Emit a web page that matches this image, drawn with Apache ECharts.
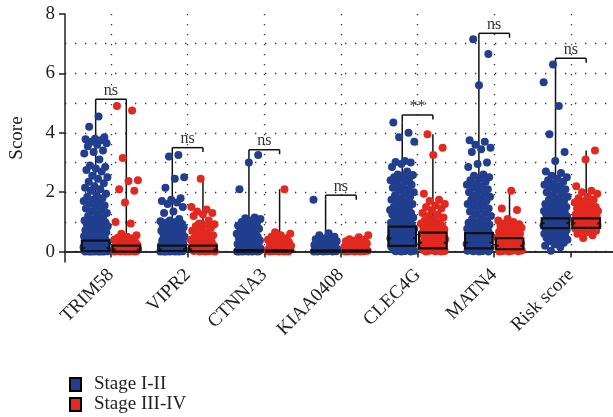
<!DOCTYPE html>
<html><head><meta charset="utf-8">
<script src="https://cdn.jsdelivr.net/npm/echarts@6/dist/echarts.min.js"></script>
<style>html,body{margin:0;padding:0;background:#fff}#c{width:613px;height:417px}</style>
</head><body><div id="c"></div>
<script>
const categories = ['TRIM58','VIPR2','CTNNA3','KIAA0408','CLEC4G','MATN4','Risk score'];
const groupNames = ['Stage I-II','Stage III-IV'];
const yLabelTicks = [0,2,4,6,8];
const yGridLines = [0,1,2,3,4,5,6,7];

const blueValues = [
 [4.55,4.2,3.85,3.8,3.78,3.75,3.7,3.65,3.6,3.55,3.4,3.35,3.3,3.1,2.9,2.85,2.8,2.75,2.7,2.55,2.5,2.45,2.35,2.3,2.2,2.15,2.1,2.05,1.95,1.9,1.85,1.8,1.75,1.7,1.65,1.6,1.55,1.5,1.45,1.4,1.35,1.3,1.25,1.2,1.15,1.1,1.05,1.02,1.0,0.98,0.95,0.92,0.9,0.87,0.85,0.82,0.8,0.77,0.75,0.72,0.7,0.67,0.65,0.62,0.6,0.57,0.55,0.52,0.5,0.47,0.45,0.42,0.4,0.37,0.35,0.32,0.3,0.28,0.27,0.25,0.24,0.22,0.21,0.2,0.19,0.18,0.17,0.16,0.15,0.14,0.13,0.12,0.11,0.1,0.09,0.08,0.07,0.06,0.05,0.05,0.04,0.04,0.03,0.03,0.02,0.02,0.02,0.01,0.01,0.01,0,0,0,0,0,0,0],
 [3.25,3.2,2.5,2.45,2.15,1.8,1.75,1.7,1.65,1.6,1.5,1.35,1.3,1.1,1.05,1.02,1.0,0.97,0.95,0.92,0.9,0.87,0.85,0.82,0.8,0.77,0.75,0.72,0.7,0.67,0.65,0.62,0.6,0.57,0.55,0.52,0.5,0.47,0.45,0.42,0.4,0.37,0.35,0.32,0.3,0.28,0.26,0.24,0.22,0.2,0.18,0.16,0.14,0.12,0.1,0.09,0.08,0.07,0.06,0.05,0.04,0.03,0.03,0.02,0.02,0.01,0.01,0,0,0,0,0,0],
 [3.25,3.0,2.1,1.15,1.12,1.1,1.05,1.0,0.95,0.9,0.87,0.85,0.8,0.77,0.75,0.7,0.67,0.65,0.6,0.57,0.55,0.5,0.47,0.45,0.42,0.4,0.37,0.35,0.32,0.3,0.28,0.26,0.24,0.22,0.2,0.18,0.16,0.14,0.12,0.1,0.09,0.08,0.07,0.06,0.05,0.04,0.03,0.03,0.02,0.02,0.01,0.01,0,0,0,0,0,0],
 [1.75,0.62,0.55,0.5,0.45,0.42,0.4,0.37,0.35,0.32,0.3,0.27,0.25,0.22,0.2,0.18,0.16,0.14,0.12,0.1,0.09,0.08,0.07,0.06,0.05,0.04,0.03,0.02,0.02,0.01,0.01,0,0,0,0],
 [4.35,4.0,3.85,3.7,3.05,3.02,3.0,2.95,2.85,2.7,2.6,2.58,2.55,2.5,2.47,2.45,2.4,2.35,2.3,2.25,2.2,2.15,2.1,2.05,2.0,1.95,1.9,1.85,1.8,1.75,1.7,1.65,1.6,1.55,1.5,1.47,1.45,1.4,1.37,1.35,1.3,1.27,1.25,1.2,1.17,1.15,1.1,1.07,1.05,1.0,0.97,0.95,0.92,0.9,0.87,0.85,0.82,0.8,0.77,0.75,0.72,0.7,0.67,0.65,0.62,0.6,0.57,0.55,0.52,0.5,0.47,0.45,0.42,0.4,0.37,0.35,0.32,0.3,0.28,0.26,0.24,0.22,0.2,0.18,0.16,0.14,0.12,0.1,0.08,0.06,0.05,0.04,0.03,0.02,0.01,0,0],
 [7.15,6.65,5.6,3.75,3.7,3.6,3.5,3.45,3.35,3.0,2.95,2.85,2.6,2.55,2.5,2.45,2.4,2.35,2.3,2.25,2.2,2.15,2.1,2.05,2.0,1.95,1.9,1.85,1.8,1.75,1.7,1.65,1.6,1.55,1.5,1.45,1.4,1.35,1.3,1.25,1.2,1.15,1.1,1.05,1.0,0.97,0.95,0.92,0.9,0.87,0.85,0.82,0.8,0.77,0.75,0.72,0.7,0.67,0.65,0.62,0.6,0.57,0.55,0.52,0.5,0.47,0.45,0.42,0.4,0.37,0.35,0.32,0.3,0.28,0.26,0.24,0.22,0.2,0.18,0.16,0.14,0.12,0.1,0.08,0.06,0.05,0.04,0.03,0.02,0.01,0,0],
 [6.3,5.7,4.9,3.95,3.35,3.05,2.7,2.65,2.55,2.5,2.45,2.4,2.35,2.3,2.25,2.2,2.15,2.1,2.05,2.0,1.95,1.9,1.85,1.8,1.75,1.7,1.65,1.6,1.57,1.55,1.5,1.47,1.45,1.42,1.4,1.37,1.35,1.32,1.3,1.28,1.25,1.22,1.2,1.18,1.15,1.12,1.1,1.08,1.05,1.02,1.0,0.98,0.96,0.94,0.92,0.9,0.88,0.86,0.84,0.82,0.8,0.78,0.76,0.74,0.72,0.7,0.67,0.65,0.62,0.6,0.57,0.55,0.52,0.5,0.47,0.45,0.42,0.4,0.37,0.35,0.3,0.25,0.2,0.15,0.03]
];
const redValues = [
 [4.9,4.75,3.15,2.4,2.38,2.1,2.05,1.65,1.0,0.95,0.6,0.55,0.5,0.47,0.45,0.42,0.4,0.37,0.35,0.32,0.3,0.28,0.26,0.25,0.23,0.22,0.2,0.19,0.18,0.16,0.15,0.14,0.13,0.12,0.11,0.1,0.09,0.08,0.07,0.06,0.05,0.05,0.04,0.04,0.03,0.03,0.02,0.02,0.01,0.01,0,0,0,0,0],
 [2.45,1.5,1.42,1.35,1.3,1.25,1.2,1.05,0.95,0.92,0.9,0.85,0.8,0.75,0.7,0.65,0.6,0.55,0.5,0.47,0.45,0.42,0.4,0.37,0.35,0.32,0.3,0.27,0.25,0.22,0.2,0.18,0.15,0.12,0.1,0.08,0.06,0.05,0.04,0.03,0.02,0.01,0,0,0],
 [2.1,0.65,0.6,0.55,0.5,0.45,0.42,0.4,0.37,0.35,0.32,0.3,0.27,0.25,0.22,0.2,0.18,0.16,0.14,0.12,0.1,0.08,0.07,0.06,0.05,0.04,0.03,0.02,0.02,0.01,0.01,0,0,0,0],
 [0.55,0.48,0.42,0.4,0.37,0.35,0.32,0.3,0.27,0.25,0.22,0.2,0.18,0.16,0.14,0.12,0.1,0.08,0.06,0.05,0.04,0.03,0.02,0.01,0.01,0,0,0],
 [3.95,3.5,3.25,1.95,1.75,1.7,1.6,1.55,1.5,1.45,1.4,1.3,1.25,1.2,1.15,1.1,1.05,1.0,0.97,0.95,0.92,0.9,0.87,0.85,0.82,0.8,0.77,0.75,0.72,0.7,0.67,0.65,0.62,0.6,0.57,0.55,0.52,0.5,0.47,0.45,0.42,0.4,0.37,0.35,0.32,0.3,0.28,0.26,0.24,0.22,0.2,0.18,0.16,0.14,0.12,0.1,0.08,0.06,0.05,0.04,0.03,0.02,0.01,0,0],
 [2.05,1.45,1.4,1.1,1.05,1.0,0.95,0.92,0.9,0.87,0.85,0.82,0.8,0.77,0.75,0.72,0.7,0.67,0.65,0.62,0.6,0.57,0.55,0.52,0.5,0.47,0.45,0.42,0.4,0.37,0.35,0.32,0.3,0.28,0.26,0.24,0.22,0.2,0.18,0.16,0.14,0.12,0.1,0.08,0.06,0.05,0.04,0.03,0.02,0.01,0,0],
 [3.4,3.1,2.2,2.05,2.0,1.95,1.85,1.8,1.75,1.7,1.65,1.6,1.55,1.5,1.47,1.45,1.42,1.4,1.37,1.35,1.32,1.3,1.28,1.25,1.22,1.2,1.18,1.15,1.12,1.1,1.08,1.05,1.02,1.0,0.98,0.96,0.94,0.92,0.9,0.88,0.86,0.84,0.82,0.8,0.78,0.75,0.72,0.7,0.65,0.6,0.55,0.46]
];

// box statistics
const blueQ1  = [0.02,0.02,0,0,0.19,0.11,0.79];
const blueMed = [0.12,0.08,0.01,0.01,0.45,0.30,0.96];
const blueQ3  = [0.37,0.20,0.05,0.04,0.84,0.62,1.12];
const redQ1   = [0,0.01,0,0,0.11,0.08,0.80];
const redMed  = [0.07,0.07,0.01,0.01,0.30,0.20,0.95];
const redQ3   = [0.20,0.20,0.04,0.04,0.64,0.45,1.12];
const blueMax = [4.55,3.25,3.25,1.75,4.35,7.15,6.30];
const redMax  = [4.90,2.45,2.10,0.55,3.95,2.05,3.40];
const bracketY = [5.13,3.50,3.43,1.90,4.60,7.35,6.51];
const sigLabels = ['ns','ns','ns','ns','**','ns','ns'];

const BLUE = '#213f8e', RED = '#e1291f';
const FONT = '"Liberation Serif","Times New Roman",serif';
const OFF = 0.2, HW = 0.18, JW = 0.32;

function jitterData(vals, i, sign, seed) {
  return vals.map((v, j) => {
    const f = ((j + 1) * 0.6180339887 + seed) % 1;
    return [i + 1 + sign * OFF + (f - 0.5) * JW, v];
  });
}
const blueData = [], redData = [];
categories.forEach((c, i) => {
  blueData.push(...jitterData(blueValues[i], i, -1, i * 0.13));
  redData.push(...jitterData(redValues[i], i, 1, i * 0.29 + 0.5));
});

const catData = categories.map((c, i) => [i + 1, bracketY[i]]);
const ln = (a, b, w) => ({type: 'line', shape: {x1: a[0], y1: a[1], x2: b[0], y2: b[1]}, style: {stroke: '#111', lineWidth: w}});

function renderWhiskers(params, api) {
  const i = params.dataIndex, x = i + 1;
  const ch = [];
  ch.push(ln(api.coord([x - OFF, blueQ3[i]]), api.coord([x - OFF, blueMax[i]]), 1.5));
  ch.push(ln(api.coord([x + OFF, redQ3[i]]), api.coord([x + OFF, redMax[i]]), 1.5));
  const yb = bracketY[i];
  const L = api.coord([x - OFF, yb]), R = api.coord([x + OFF, yb]);
  ch.push(ln(L, R, 1.5));
  ch.push(ln(L, api.coord([x - OFF, blueMax[i] > yb - 0.6 ? blueMax[i] : yb - 0.15]), 1.5));
  ch.push(ln(R, api.coord([x + OFF, redMax[i] > yb - 0.6 ? redMax[i] : yb - 0.15]), 1.5));
  ch.push({type: 'text', x: (L[0] + R[0]) / 2, y: L[1] - 0.5,
    style: {text: sigLabels[i], textAlign: 'center', textVerticalAlign: 'bottom', font: '16px ' + FONT, fill: '#333'}});
  return {type: 'group', children: ch};
}
function renderBoxes(params, api) {
  const i = params.dataIndex, x = i + 1;
  const ch = [];
  const hw = api.size([HW, 0])[0];
  [[x - OFF, blueQ1, blueMed, blueQ3], [x + OFF, redQ1, redMed, redQ3]].forEach(([cx, q1, md, q3]) => {
    const t = api.coord([cx, q3[i]]), b = api.coord([cx, q1[i]]), m = api.coord([cx, md[i]]);
    ch.push({type: 'rect', shape: {x: t[0] - hw, y: t[1], width: 2 * hw, height: Math.max(b[1] - t[1], 1)},
      style: {fill: 'rgba(0,0,0,0)', stroke: '#111', lineWidth: 2.2}});
    ch.push(ln([m[0] - hw, m[1]], [m[0] - hw + 3, m[1]], 2));
    ch.push(ln([m[0] + hw - 3, m[1]], [m[0] + hw, m[1]], 2));
  });
  return {type: 'group', children: ch};
}

const chart = echarts.init(document.getElementById('c'), null, {renderer: 'canvas'});
const dotted = {color: '#333', width: 1.3, type: [1.3, 8.7]};
chart.setOption({
  animation: false,
  backgroundColor: '#fff',
  grid: {left: 64, top: 14, width: 549, height: 248},
  legend: {
    orient: 'vertical', left: 64, top: 370, height: 80, itemWidth: 11, itemHeight: 13, itemGap: 1,
    icon: 'rect', itemStyle: {borderColor: '#000', borderWidth: 2},
    textStyle: {fontFamily: FONT, fontSize: 19, color: '#222', padding: [0, 0, 0, 8]},
    data: groupNames
  },
  xAxis: [{
    type: 'value', min: 0.4, max: 7.55,
    axisLine: {show: true, lineStyle: {color: '#222', width: 1.5}},
    axisTick: {show: true, length: 6, customValues: [1,2,3,4,5,6,7], lineStyle: {color: '#222', width: 1.5}},
    axisLabel: {customValues: [1,2,3,4,5,6,7], rotate: 45, margin: 10,
      formatter: v => categories[Math.round(v) - 1] || '',
      fontFamily: FONT, fontSize: 19, color: '#222'},
    splitLine: {show: true, lineStyle: dotted}
  }, {
    type: 'value', position: 'top', min: 0.4, max: 7.55,
    axisLine: {show: true, lineStyle: {color: '#222', width: 1.5}},
    axisTick: {show: false}, axisLabel: {show: false}, splitLine: {show: false}
  }],
  yAxis: [{
    type: 'value', min: -0.35, max: 8,
    name: 'Score', nameLocation: 'middle', nameGap: 38,
    nameTextStyle: {fontFamily: FONT, fontSize: 19, color: '#222'},
    axisLine: {show: true, lineStyle: {color: '#222', width: 1.5}},
    axisTick: {show: true, length: 6, customValues: yLabelTicks, lineStyle: {color: '#222', width: 1.5}},
    axisLabel: {customValues: yLabelTicks, margin: 10, fontFamily: FONT, fontSize: 19, color: '#222'},
    splitLine: {show: false}
  }, {
    type: 'value', min: -0.35, max: 8, position: 'left',
    axisLine: {show: false}, axisLabel: {show: false},
    axisTick: {show: false, customValues: yGridLines},
    splitLine: {show: true, lineStyle: dotted}
  }],
  series: [
    {type: 'custom', name: 'whiskers', renderItem: renderWhiskers, data: catData, encode: {x: 0, y: 1}, z: 1, silent: true},
    {type: 'scatter', name: groupNames[0], data: blueData, symbolSize: 8, itemStyle: {color: BLUE, opacity: 1}, z: 2},
    {type: 'scatter', name: groupNames[1], data: redData, symbolSize: 8, itemStyle: {color: RED, opacity: 1}, z: 2},
    {type: 'custom', name: 'boxes', renderItem: renderBoxes, data: catData, encode: {x: 0, y: 1}, z: 3, silent: true}
  ]
});
</script></body></html>
